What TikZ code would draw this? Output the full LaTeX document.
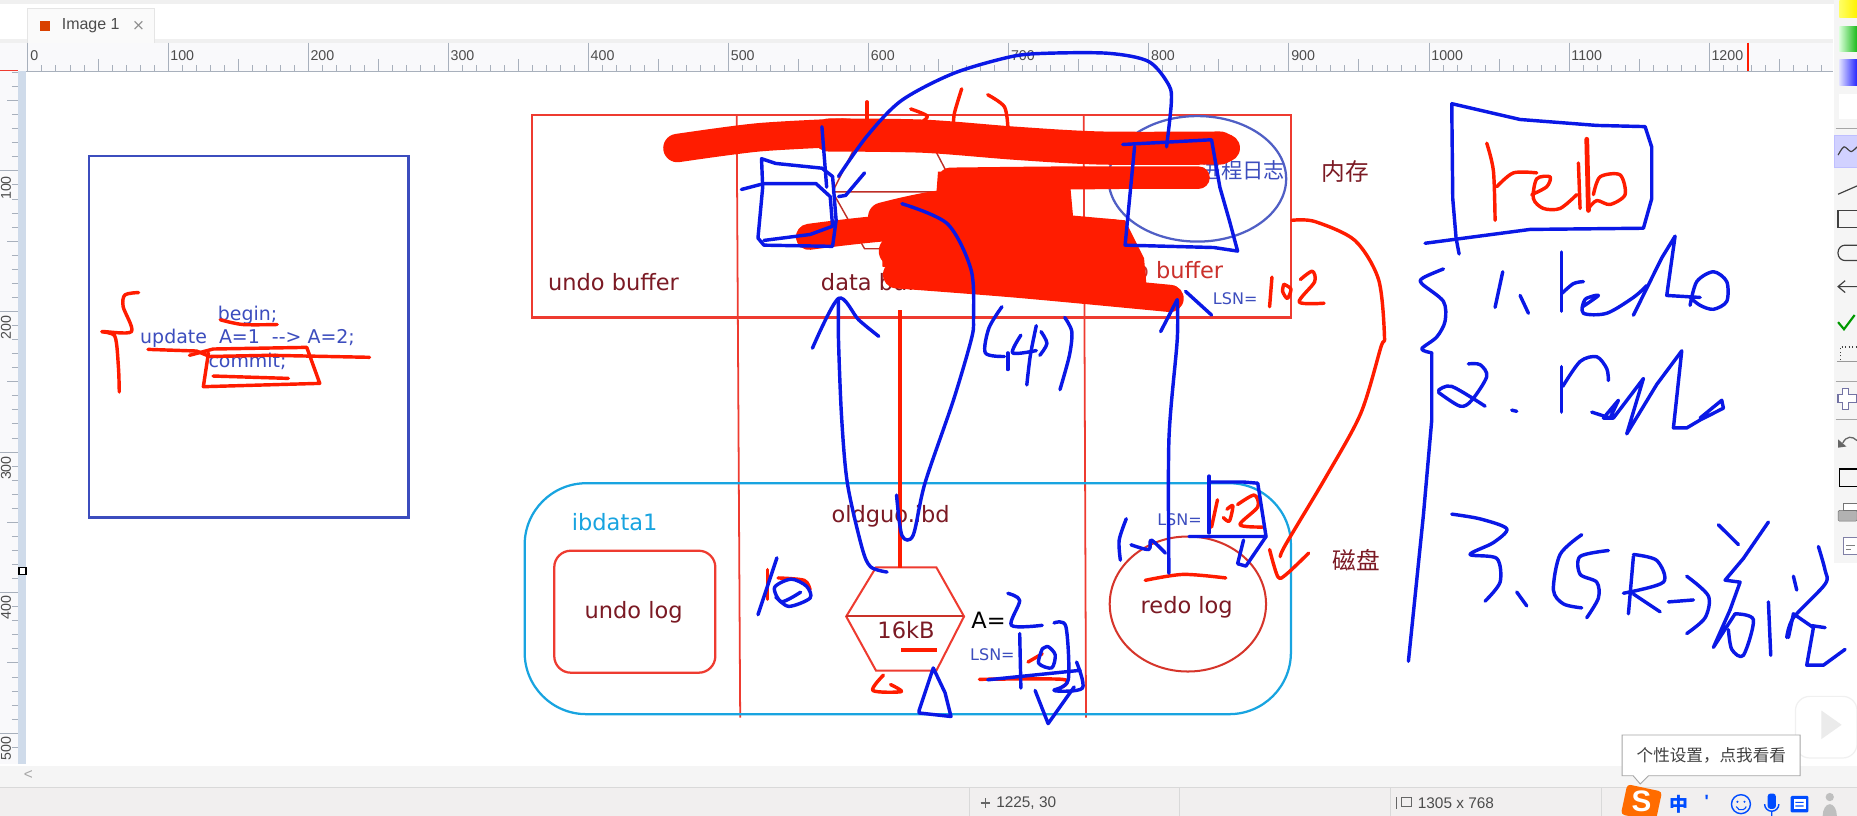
\documentclass[tikz,border=0pt]{standalone}
\usepackage{fontspec}
\setmainfont{DejaVu Sans}
\newfontfamily\uif{Liberation Sans}
\newfontfamily\cjk{Noto Sans CJK SC}
\usetikzlibrary{shapes.geometric}
\definecolor{penred}{HTML}{FF1C00}
\definecolor{penblue}{HTML}{0A18E6}
\definecolor{boxred}{HTML}{EE3B30}
\definecolor{darkred}{HTML}{7B1A24}
\definecolor{lblue}{HTML}{3C4DBE}
\definecolor{skyb}{HTML}{18A4E0}
\definecolor{rulerbg}{HTML}{F9F9FB}
\definecolor{tick}{HTML}{A8B0BC}
\definecolor{uibg}{HTML}{F1EFEF}
\definecolor{strip}{HTML}{CFDBEA}
\newcommand\fs[1]{\fontsize{#1}{#1}\selectfont}
\newcommand\bl[1]{\draw[bluepen] plot[smooth,tension=.5] coordinates {#1};}
\newcommand\rd[1]{\draw[redpen] plot[smooth,tension=.5] coordinates {#1};}
\newcommand\blob[2]{\draw[redpen,line width=#1] plot[smooth,tension=.5] coordinates {#2};}
\tikzset{
  x=1pt,y=-1pt,
  bluepen/.style={penblue,line width=2.9pt,line cap=round,line join=round},
  redpen/.style={penred,line width=2.9pt,line cap=round,line join=round},
  thinred/.style={boxred,line width=1.9pt},
  label/.style={inner sep=0pt,text=darkred},
  lsn/.style={inner sep=0pt,text=lblue,font=\fs{13.5}},
  code/.style={inner sep=0pt,text=lblue,font=\fs{16}},
  rul/.style={inner sep=0pt,text=black!70,font=\uif\fs{12}},
  ui/.style={inner sep=0pt,text=black!70,font=\uif\fs{13}},
  tool/.style={black!75,line width=1pt}
}
\begin{document}
\begin{tikzpicture}
\useasboundingbox (0,0) rectangle (1568,689);
\fill[white] (0,0) rectangle (1568,689);
% window chrome
\fill[black!6] (0,0) rectangle (1568,3.4);
\fill[black!6] (0,33) rectangle (1548,36);
\draw[black!10,line width=.7pt,fill=black!2] (23,36) -- (23,7) -- (130,7) -- (130,36);
\fill[orange!60!red!85!black] (33.4,17.5) rectangle (42,26);
\node[ui,anchor=west,font=\uif\fs{13.5}] (tabname) at (52,21.5) {Image 1};
\node[inner sep=0pt,text=black!45,font=\fs{13}] (tabx) at (117,21.5) {×};
% top ruler
\fill[rulerbg] (0,36) rectangle (1548,60);
\draw[tick,line width=.8pt] (0,60) -- (1548,60);
\foreach \i in {0,...,129} {
  \pgfmathsetmacro\xx{23.4+\i*11.83}
  \pgfmathtruncatemacro\m{mod(\i,10)}
  \pgfmathtruncatemacro\n{mod(\i,5)}
  \ifnum\m=0 \draw[tick] (\xx,36)--(\xx,60);
  \else\ifnum\n=0 \draw[tick] (\xx,50)--(\xx,60);
  \else \draw[tick] (\xx,55)--(\xx,60); \fi\fi
}
\foreach \v in {0,100,...,1200} {
  \pgfmathsetmacro\xx{23.4+\v*1.183}
  \node[rul,anchor=west] (t\v) at (\xx+2,47) {\v};
}
\draw[penred,line width=1pt] (1476,36)--(1476,60);
% left ruler
\fill[rulerbg] (0,60) rectangle (16,645);
\fill[strip] (15.5,60) rectangle (22,645);
\draw[boxred,line width=.8pt] (0,59.7)--(15,59.7);
\foreach \i in {0,...,48} {
  \pgfmathsetmacro\yy{61+\i*11.87}
  \pgfmathtruncatemacro\m{mod(\i+3,10)}
  \pgfmathtruncatemacro\n{mod(\i+3,5)}
  \ifnum\m=0 \draw[tick] (0,\yy)--(15.5,\yy);
  \else\ifnum\n=0 \draw[tick] (6,\yy)--(15.5,\yy);
  \else \draw[tick] (10,\yy)--(15.5,\yy); \fi\fi
}
\foreach \v/\yy in {100/146.5,200/264.5,300/383,400/501,500/619.5} {
  \node[rul,rotate=90,anchor=east] (l\v) at (5,\yy+2) {\v};
}
\draw[black,line width=1pt,fill=white] (16,479) rectangle (22,485);
% bottom bars
\fill[black!4] (0,647) rectangle (1568,665);
\fill[uibg] (0,665) rectangle (1568,689);
\draw[black!15] (0,664.7)--(1568,664.7);
\foreach \xx in {818,996,1174,1352} \draw[black!15] (\xx,665)--(\xx,689);
\node[inner sep=0pt,text=black!35,font=\uif\fs{13}] (sleft) at (24,654) {<};
\draw[black!60,line width=.9pt] (828,678)--(836,678) (832,674)--(832,682);
\node[ui,anchor=west] (pos) at (841,678) {1225, 30};
\draw[black!60,line width=.9pt] (1179,673)--(1179,683) (1183,673) rectangle (1192,681);
\node[ui,anchor=west] (size) at (1197,678) {1305 x 768};
% right toolbar
\fill[black!4] (1548.6,0) rectangle (1568,475.6);
\shade[left color=yellow!60,right color=yellow!90!orange] (1553,0) rectangle (1568,14.6);
\shade[left color=green!15,right color=green!70!black!90] (1553,22.5) rectangle (1568,43.6);
\shade[left color=blue!12,right color=blue!85] (1553,50.6) rectangle (1568,71.8);
\fill[white] (1553,79.6) rectangle (1568,100.5);
\draw[black!35] (1550,108)--(1568,108) (1550,322)--(1568,322) (1550,354)--(1568,354);
\fill[blue!18,draw=blue!25] (1549,114) rectangle (1568,141);
\draw[tool] plot[smooth] coordinates {(1552,131)(1557,124)(1563,128)(1568,124)};
\draw[tool] (1552,164)--(1568,157);
\draw[tool] (1568,178)--(1552,178)--(1552,192)--(1568,192);
\draw[tool,rounded corners=6pt] (1568,207)--(1552,207)--(1552,220)--(1568,220);
\draw[tool] (1552,242)--(1568,242) (1558,237)--(1552,242)--(1558,247);
\draw[green!60!black,line width=1.8pt] (1552,272)--(1557,278)--(1566,266);
\draw[tool,dotted] (1554,304)--(1554,293)--(1568,293);
\draw[black!40] (1551,305)--(1568,305);
\draw[blue!35!black!55,line width=1pt,fill=white] (1556,328)--(1561,328)--(1561,333)--(1568,333)--(1568,340)--(1561,340)--(1561,346)--(1556,346)--(1556,340)--(1552,340)--(1552,333)--(1556,333)--cycle;
\draw[black!60,line width=1.1pt] (1556,374) .. controls (1559,368) and (1564,368) .. (1568,372);
\fill[black!60] (1552,371)--(1559,377)--(1552,378)--cycle;
\draw[black,line width=1pt] (1568,396)--(1553,396)--(1553,411)--(1568,411);
\draw[black!55,fill=black!30,rounded corners=1pt] (1552,431) rectangle (1568,440);
\draw[black!55,fill=white] (1556,425) rectangle (1568,431);
\draw[blue!30!black!50,fill=white] (1556,454) rectangle (1568,468);
\draw[black!50] (1559,460)--(1566,460) (1559,464)--(1563,464);
% ===== diagram base =====
\draw[lblue,line width=1.9pt] (75,132) rectangle (345,437);
\node[code] (begin) at (209,266) {begin;};
\node[code] (update) at (209,285.5) {update\ \ A=1\ \ -{}-> A=2;};
\node[code] (commit) at (209,305) {commit;};

\draw[thinred] (449,97) rectangle (1090,268);
\draw[boxred,line width=1.5pt] (622,97) -- (625,606);
\draw[boxred,line width=1.5pt] (915,97) -- (917,606);
\draw[skyb,line width=1.9pt,rounded corners=52pt] (443,408) rectangle (1090,603);
\draw[boxred,line width=1.9pt,rounded corners=14pt] (468,465) rectangle (604,568);
\node[label,font=\fs{19}] (ub) at (518,238.5) {undo buffer};
\node[label,font=\fs{19},anchor=west] (db) at (693,238.5) {data buffer};
\node[label,font=\fs{19},anchor=east,text=boxred!70!darkred] (rb) at (1033,228) {redo buffer};
\node[inner sep=0pt,text=lblue,font=\cjk\fs{18}] (plog) at (1049,143.5) {进程日志};
\draw[lblue!90!white,line width=1.9pt] (1011,151) ellipse (75 and 53);
\draw[boxred!80!black,line width=1.2pt] (728,112)--(782,112)--(808,162)--(780,210)--(730,210)--(703,162)--cycle (703,162)--(808,162);
\node[label,font=\cjk\fs{20}] (mem) at (1136,145) {内存};
\node[label,font=\cjk\fs{20}] (disk) at (1145,473) {磁盘};
\node[inner sep=0pt,text=skyb,font=\fs{19}] (ibd) at (519,441) {ibdata1};
\node[label,font=\fs{19}] (ul) at (535,517) {undo log};
\node[label,font=\fs{19}] (ol) at (752,436) {oldguo.ibd};
\draw[boxred,line width=1.7pt] (739.7,479)--(790.6,479)--(814,520.5)--(790.6,566.3)--(739.7,566.3)--(714.5,520.5)--cycle;
\draw[boxred!85!black,line width=1.7pt] (714.5,520)--(813,520);
\node[label,font=\fs{19}] (kb) at (765,532) {16kB};
\draw[boxred!90!black,line width=1.7pt] (1003,510) ellipse (66 and 57);
\node[label,font=\fs{19}] (rl) at (1002,513) {redo log};
\node[inner sep=0pt,text=black,font=\fs{19},anchor=west] (aeq) at (820,524) {A=};
\node[lsn,anchor=west] (lsn1) at (1024,252.5) {LSN=};
\node[lsn,anchor=west] (lsn2) at (977,439) {LSN=};
\node[lsn,anchor=west] (lsn3) at (819,552.5) {LSN=};

% ===== red ink =====
\fill[penred] (792,145)--(1000,142)--(1002,159)--(904,160)--(906,182)--(950,186)--(966,218)--(968,240)--(800,242)--(745,225)--(745,200)--(735,182)--(790,172)--cycle;
\blob{24pt}{(572,125)(640,116)(712,112)}
\blob{28pt}{(700,114)(780,115)(858,121)(930,125)(1030,125)}
\blob{24pt}{(1020,125)(1035,125)}
\blob{19pt}{(802,151)(900,150)(1012,150)}
\blob{24pt}{(745,183)(800,172)(892,170)}
\blob{22pt}{(683,200)(760,192)(860,194)(940,196)}
\blob{26pt}{(755,212)(860,216)(953,224)}
\blob{23pt}{(757,232)(860,240)(988,252)}
\draw[penred,line width=3.2pt] (760,262)--(760,480);
\rd{(732,86)(732,107)}
\rd{(769,92)(783,98)(777,104)}
\rd{(812,75)(806,95)(805,105)}
\rd{(834,80)(848,90)(851,107)}
% LSN 102 (top)
\rd{(1074,234)(1072,259)}
\rd{(1084,240)(1090,244)(1087,252)(1083,246)(1084,240)}
\rd{(1098,236)(1108,229)(1110,238)(1097,255)(1118,256)}
% red arrow
\rd{(1091,186)(1110,187)(1144,203)(1164,236)(1169,284)(1166,293)(1149,349)(1120,402)(1086,459)(1081,470)}
\rd{(1072,464)(1079,487)(1086,485)(1105,467)}
% redo log marks
\rd{(967,490)(999,485)(1035,488)}
\rd{(1028,422)(1023,445)}
\rd{(1036,430)(1041,427)(1038,440)(1033,437)}
\rd{(1045,426)(1059,418)(1062,428)(1047,443)(1066,445)}
% hexagon marks
\draw[penred,line width=3pt] (761,549)--(791,549);
\rd{(746,570)(737,583)(761,584)(752,578)}
\rd{(648,481)(648,506)}
\rd{(657,488)(679,490)(684,498)}
\rd{(827,573.6)(897,573.6)(897,580)}
\rd{(868,559)(880,552)}
% left annotations
\rd{(117,247)(105.5,249)(104,259)(111,280)(86,280)(97,284)(100,310)(100.7,331)}
\rd{(186,270)(205,274)(234,274)}
\draw[redpen] (125,295)--(166,296.4)--(177,301)--(228,300)--(312,301.7);
\draw[redpen] (160,300)--(180,294.7)--(259,293.3)--(270,323.7)--(171.7,326.5)--(176,298);
\draw[redpen] (180,317.5)--(243.5,319.5);
% ===== blue ink =====
\bl{(708,149)(732,115)(761,85)(805,62)(853,48)(883,45)(936,45)(970,52)(987,72)(989,87)(985,124)}
\draw[bluepen] (948,122)--(1023,118)--(1030,158)--(1038,186)--(1045,212)--(1025,209)--(950,207)--(958,124);
\draw[bluepen] (643,134)--(655,138)--(694,142)--(703,149)--(706,186)--(703,208)--(645,207)--(640,201)--(644,158)--cycle;
\draw[bluepen] (626,160)--(645,155)--(689,155)--(701,166)--(703,191)--(684,198)--(645,203);
\draw[bluepen] (708,166)--(714,165)--(730,146);
\draw[bluepen] (694,107)--(698,158);
% arrow to data buffer
\bl{(708,252)(708,287)(710.6,352)(715.5,408)(727.6,461.6)(735,478.5)(749,483)}
\bl{(686,294)(708,252)(725,270)(742,284)}
% curve 4
\bl{(761.5,172)(800,189)(820,228)(822,270)(820,287)(805,338)(781,408)(771,452)(761.5,452)(757,418)}
% (4)
\bl{(846,259)(835,277)(832,298)(848,301)}
\bl{(851,312)(851,298)}
\bl{(862,283)(855,298)(875,296)}
\bl{(875,275)(870,300)(867,325)}
\bl{(879,280)(884,290)(878,300)}
\bl{(899,268)(905,280)(903,300)(895,329)}
% arrow to redo buffer
\bl{(994,253)(994,287)(987,371)(987,484)}
\bl{(980,280)(994,253)}
\bl{(1001,246)(1023,266)}
% LSN box lower
\draw[bluepen] (1021,402)--(1021,450);
\draw[bluepen] (1021,407)--(1050,407)--(1062,408)--(1069,453)--(1004,453);
\draw[bluepen] (1069,453)--(1052,478)--(1045,476)--(1050,456);
\bl{(951,438)(945,456)(946,473)}
\bl{(955,460)(970,464)(972,456)(984,467)}
% (5)
\bl{(656,471)(640,519)}
\bl{(655,504)(666,512)(684,505)(681,495)(668,489)(654,496)(660,508)(676,500)}
% triangle
\draw[bluepen] (788,564)--(776,600)--(776,602)--(803,605)--(798,585)--cycle;
% A=2
\bl{(851,501)(861,507)(854,528)(880,528)}
% LSN value
\draw[bluepen] (861,535)--(862,581);
\draw[bluepen] (834,574)--(912,566);
\bl{(890,526)(900,529)(902,574)(890,583)(914,581)(909,559)}
\bl{(880,548)(877,560)(888,564)(891,553)(885,546)(880,548)}
\draw[bluepen] (874,583)--(885,611)--(907,580);
% right notes
\begin{scope}[shift={(1165.3,67.5)},xscale=0.28145,yscale=0.3339]
\draw[bluepen] (215,60)--(420,100)--(650,115)--(795,118)--(815,170)--(815,300)--(790,375)--(450,378)--(135,413);
\draw[bluepen] (215,60)--(218,300)--(228,400)--(237,440);
\rd{(320,160)(340,230)(345,355)}
\rd{(350,270)(400,235)(470,235)}
\rd{(455,290)(500,270)(510,245)(470,250)(460,300)(490,325)(540,325)(590,290)}
\draw[redpen,line width=4pt] (620,150)--(625,330);
\rd{(595,210)(600,325)}
\rd{(640,290)(660,245)(720,240)(735,290)(690,315)(650,305)(625,325)}
\bl{(190,478)(130,500)(125,515)(190,560)(195,610)(170,650)(125,680)(155,690)}
\draw[bluepen] (155,690)--(155,860)--(130,1100)--(85,1470);
\bl{(368,485)(345,575)}
\bl{(420,545)(445,590)}
\draw[bluepen] (545,435)--(545,585);
\bl{(545,540)(580,515)(610,510)}
\bl{(605,575)(655,545)(615,555)(610,590)(680,590)(760,550)(800,520)}
\draw[bluepen] (760,595)--(845,450)--(885,395)--(860,545)--(920,548)--(960,550);
\bl{(930,570)(950,510)(1000,485)(1040,510)(1040,560)(1000,580)(960,570)(930,550)}
\bl{(175,790)(240,825)(275,810)(320,750)(300,720)(265,718)}
\bl{(175,785)(215,775)(315,825)}
\draw[bluepen] (395,835)--(410,838);
\draw[bluepen] (545,725)--(545,840);
\bl{(548,775)(600,712)(650,700)(680,730)(685,760)}
\draw[bluepen] (635,840)--(690,855)--(715,810)--(670,855)--(700,855)--(790,755)--(740,895)--(830,770)--(905,685)--(880,880)--(920,880)--(960,860)--(1030,830)--(1025,810)--(960,855);
\bl{(215,1098)(300,1110)(380,1135)(340,1170)(270,1200)(350,1210)(360,1270)(315,1318)}
\bl{(410,1295)(440,1330)}
\bl{(605,1150)(540,1200)(520,1290)(550,1325)(605,1335)}
\bl{(685,1190)(600,1205)(600,1250)(650,1270)(655,1310)(620,1360)}
\draw[bluepen] (760,1205)--(745,1350);
\bl{(760,1200)(830,1215)(850,1270)(730,1298)}
\draw[bluepen] (760,1300)--(840,1345);
\draw[bluepen] (865,1320)--(940,1315);
\bl{(920,1255)(985,1305)(975,1360)(920,1400)}
\draw[bluepen] (1015,1125)--(1075,1175);
\draw[bluepen] (1165,1118)--(1090,1210)--(1035,1265)--(1080,1270)--(1050,1340)--(1000,1435)--(1065,1350);
\bl{(1065,1350)(1120,1365)(1090,1455)(1055,1440)(1045,1390)}
\draw[bluepen] (1165,1320)--(1172,1455);
\bl{(1315,1180)(1335,1240)(1335,1275)(1240,1360)(1220,1410)}
\draw[bluepen] (1240,1255)--(1250,1290);
\draw[bluepen] (1225,1410)--(1240,1350)--(1300,1385)--(1280,1480)--(1330,1480)--(1395,1440);
\draw[bluepen] (1295,1380)--(1335,1385);
\end{scope}
% play overlay
\draw[black!6,fill=white,line width=1pt,rounded corners=12pt] (1516,588) rectangle (1568,640);
\fill[black!8] (1538,600)--(1555,612)--(1538,624)--cycle;
% tooltip
\draw[black!35,fill=white,line width=.8pt] (1369.6,620.6)--(1520,620.6)--(1520,655)--(1392,655)--(1385,662)--(1379,655)--(1369.6,655)--cycle;
\node[inner sep=0pt,text=black!75,font=\cjk\fs{14}] (tip) at (1445,638) {个性设置，点我看看};
% tray
\fill[orange!85!red,rounded corners=3pt,rotate around={-12:(1386,678)}] (1371,665) rectangle (1401,691);
\node[inner sep=0pt,text=white,font=\uif\bfseries\fs{25}] (sogou) at (1386,677) {S};
\node[inner sep=0pt,text=blue!70!cyan,font=\cjk\bfseries\fs{16}] (zh) at (1418,679) {中};
\node[inner sep=0pt,text=blue!70!cyan,font=\uif\bfseries\fs{15}] (punct) at (1441,677) {'};
\draw[blue!70!cyan,line width=1.2pt] (1470,679) circle (8);
\fill[blue!70!cyan] (1467,677) circle (1) (1473,677) circle (1);
\draw[blue!70!cyan,line width=.9pt] (1466,681) arc (160:20:4.5);
\fill[blue!70!cyan,rounded corners=2.5pt] (1492.5,670) rectangle (1499.5,683);
\draw[blue!70!cyan,line width=1.2pt] (1490,679) arc (180:0:6) (1496,685)--(1496,689);
\fill[blue!70!cyan,rounded corners=1pt] (1512,672) rectangle (1527,686);
\fill[white] (1514.5,675) rectangle (1524.5,683);
\fill[blue!70!cyan] (1516,677) rectangle (1523,678) (1516,680) rectangle (1523,681);
\fill[black!25] (1545,673) circle (3.5) (1539,689) arc (180:360:6 and 10);
\end{tikzpicture}
\end{document}
